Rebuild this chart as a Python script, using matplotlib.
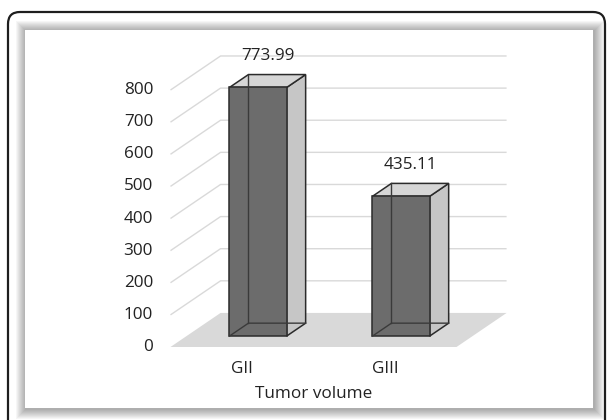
import matplotlib.pyplot as plt
from matplotlib.patches import Polygon, FancyBboxPatch, Rectangle

plt.rcParams['font.family'] = ['Open Sans', 'DejaVu Sans']

# Data
categories = ["GII", "GIII"]
volumes = [773.99, 435.11]
value_labels = ["773.99", "435.11"]
yticks = [0, 100, 200, 300, 400, 500, 600, 700, 800]
xlabel = "Tumor volume"

# 3D look: depth vector of the floor (x in category units, y in value units)
DX, DY = 0.35, 106.0
BAR_W = 0.40
FRONT, BACK = 0.32, 0.70   # bar front/back as fraction of floor depth
X0, X1 = -0.5, 1.5         # floor extent along the category axis

TEXT = "#222222"
GRID = "#d9d9d9"
EDGE = "#2b2b2b"
FS = 12.3

fig = plt.figure(figsize=(6.07, 4.2), dpi=100)

# background: rounded outer frame and shadowed white panel (pixel coords)
bg = fig.add_axes([0, 0, 1, 1])
bg.set_xlim(0, 607)
bg.set_ylim(420, 0)
bg.axis("off")
bg.add_patch(FancyBboxPatch((8, 12), 597, 430,
                            boxstyle="round,pad=0,rounding_size=12",
                            facecolor="white", edgecolor="#1e1e1e", lw=1.6))
for i in range(10, 0, -1):
    bg.add_patch(Rectangle((25 - i + 1, 30 - i + 1), 568 + 2 * i, 378 + 2 * i,
                           facecolor="black", edgecolor="none", alpha=0.035))
bg.add_patch(Rectangle((25, 30), 568, 378, facecolor="white",
                       edgecolor="none"))

ax = fig.add_axes([0, 0, 1, 1])
ax.patch.set_alpha(0)
ax.set_xlim(-1.692, 2.552)
ax.set_ylim(-227.3, 1080.3)
ax.axis("off")

# floor
ax.add_patch(Polygon([(X0, 0), (X1, 0), (X1 + DX, DY), (X0 + DX, DY)],
                     closed=True, facecolor="#d9d9d9", edgecolor="none",
                     zorder=1))

# gridlines running up the left side and along the back wall
for v in yticks[1:]:
    ax.plot([X0, X0 + DX, X1 + DX], [v, v + DY, v + DY], color=GRID,
            lw=1.0, zorder=0.5, solid_capstyle="butt")
for v in yticks:
    ax.text(X0 - 0.122, v, str(v), ha="right", va="center", fontsize=FS,
            color=TEXT)

# bars
for i, (cat, val, lab) in enumerate(zip(categories, volumes, value_labels)):
    fx = i - BAR_W / 2 + DX * FRONT
    fy = DY * FRONT
    bx = DX * (BACK - FRONT)
    by = DY * (BACK - FRONT)
    fl, fr = fx, fx + BAR_W
    bot, top = fy, fy + val
    # right side face
    ax.add_patch(Polygon([(fr, bot), (fr + bx, bot + by), (fr + bx, top + by),
                          (fr, top)], closed=True, facecolor="#c6c6c6",
                         edgecolor=EDGE, lw=1.1, zorder=3))
    # top face
    ax.add_patch(Polygon([(fl, top), (fr, top), (fr + bx, top + by),
                          (fl + bx, top + by)], closed=True,
                         facecolor="#d6d6d6", edgecolor=EDGE, lw=1.1,
                         zorder=3))
    # front face
    ax.add_patch(Polygon([(fl, bot), (fr, bot), (fr, top), (fl, top)],
                         closed=True, facecolor="#6c6c6c", edgecolor=EDGE,
                         lw=1.1, zorder=4))
    # hidden edges seen through the translucent box
    ax.plot([fl, fl + bx, fr + bx], [bot, bot + by, bot + by], color="#3a3a3a",
            lw=1.0, zorder=5)
    ax.plot([fl + bx, fl + bx], [bot + by, top + by], color="#3a3a3a",
            lw=1.0, zorder=5)
    # value label above the bar
    ax.annotate(lab, (i + DX * (FRONT + BACK) / 2, val + DY * (FRONT + BACK) / 2),
                xytext=(0, 18), textcoords="offset points", ha="center",
                va="center", fontsize=FS, color=TEXT, zorder=6)
    # category label at the front edge of the floor
    ax.text(i, -68, cat, ha="center", va="center", fontsize=FS, color=TEXT)

ax.text(0.5, -146, xlabel, ha="center", va="center", fontsize=FS,
        color=TEXT)

plt.savefig("out.png", dpi=100)
